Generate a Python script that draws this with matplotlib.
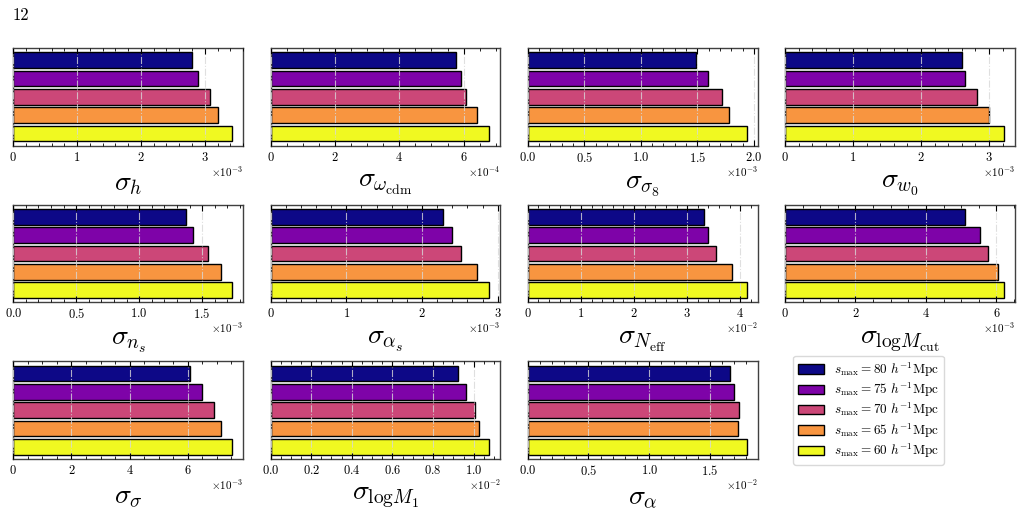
import numpy as np
import matplotlib
matplotlib.use("Agg")
import matplotlib.pyplot as plt
from matplotlib.ticker import AutoMinorLocator

plt.rcParams["font.family"] = "serif"
plt.rcParams["font.serif"] = ["cmr10", "DejaVu Serif"]
plt.rcParams["mathtext.fontset"] = "cm"
plt.rcParams["axes.formatter.use_mathtext"] = True
plt.rcParams["axes.unicode_minus"] = False

# s_max values (h^-1 Mpc), top bar first
smax = [80, 75, 70, 65, 60]

# 1-sigma forecast errors, one list per parameter (same order as smax)
sig_h = [2.80e-3, 2.90e-3, 3.08e-3, 3.20e-3, 3.43e-3]
sig_wcdm = [5.77e-4, 5.91e-4, 6.07e-4, 6.41e-4, 6.80e-4]
sig_s8 = [1.485e-3, 1.594e-3, 1.718e-3, 1.779e-3, 1.936e-3]
sig_w0 = [2.60e-3, 2.65e-3, 2.82e-3, 3.00e-3, 3.22e-3]
sig_ns = [1.375e-3, 1.425e-3, 1.547e-3, 1.650e-3, 1.739e-3]
sig_as = [2.28e-3, 2.40e-3, 2.51e-3, 2.72e-3, 2.89e-3]
sig_neff = [3.31e-2, 3.39e-2, 3.55e-2, 3.84e-2, 4.12e-2]
sig_logmcut = [5.10e-3, 5.54e-3, 5.77e-3, 6.03e-3, 6.21e-3]
sig_sigma = [6.08e-3, 6.48e-3, 6.92e-3, 7.13e-3, 7.53e-3]
sig_logm1 = [0.920e-2, 0.964e-2, 1.008e-2, 1.028e-2, 1.077e-2]
sig_alpha = [1.665e-2, 1.700e-2, 1.739e-2, 1.730e-2, 1.802e-2]

labels = [r"$\sigma_{h}$", r"$\sigma_{\omega_{\rm cdm}}$", r"$\sigma_{\sigma_8}$", r"$\sigma_{w_0}$",
          r"$\sigma_{n_s}$", r"$\sigma_{\alpha_s}$", r"$\sigma_{N_{\rm eff}}$",
          r"$\sigma_{{\rm log}M_{\rm cut}}$",
          r"$\sigma_{\sigma}$", r"$\sigma_{{\rm log}M_1}$", r"$\sigma_{\alpha}$"]
series = [sig_h, sig_wcdm, sig_s8, sig_w0, sig_ns, sig_as, sig_neff, sig_logmcut,
          sig_sigma, sig_logm1, sig_alpha]

colors = plt.cm.plasma(np.linspace(0, 1, len(smax)))
ypos = np.arange(len(smax))

fig, axes = plt.subplots(3, 4, figsize=(10.22, 5.2), dpi=100)
fig.subplots_adjust(left=0.013, right=0.993, top=0.908, bottom=0.117, wspace=0.119, hspace=0.60)

panels = list(zip(axes.flat, labels, series))
for ax, lab, vals in panels:
    for i in range(len(smax)):
        ax.barh(ypos[i], vals[i], height=0.85, color=colors[i], edgecolor="k", linewidth=1.0,
                label=rf"$s_{{\rm max}} = {smax[i]}\ h^{{-1}}{{\rm Mpc}}$")
    ax.invert_yaxis()
    ax.set_xlim(left=0)
    ax.ticklabel_format(axis="x", style="sci", scilimits=(0, 0))
    ax.xaxis.set_minor_locator(AutoMinorLocator())
    ax.tick_params(axis="x", which="both", direction="in", top=True, bottom=True, labelsize=9)
    ax.tick_params(axis="x", which="major", length=4, width=0.8)
    ax.tick_params(axis="x", which="minor", length=2, width=0.6)
    ax.tick_params(axis="y", left=False, right=False, labelleft=False)
    ax.grid(axis="x", which="major", color="#d8d8d8", ls="-.", lw=0.8, alpha=0.8)
    ax.set_axisbelow(False)
    for sp in ax.spines.values():
        sp.set_color("0.25")
        sp.set_linewidth(1.0)
    ax.set_xlabel(lab, fontsize=20, labelpad=5)

# the x10^n offset sits a bit higher than matplotlib puts it: redraw it by hand
fig.canvas.draw()
for ax, lab, vals in panels:
    off = ax.xaxis.get_major_formatter().get_offset()
    ax.xaxis.get_offset_text().set_visible(False)
    ax.annotate(off, xy=(1, 0), xycoords="axes fraction", xytext=(0, -13),
                textcoords="offset points", ha="right", va="top", fontsize=8)

handles, leg_labels = axes.flat[0].get_legend_handles_labels()
axes.flat[-1].axis("off")
axes.flat[-1].legend(handles, leg_labels, loc="center left", fontsize=9.5, frameon=True,
                     edgecolor="#d0d0d0", fancybox=True, handlelength=2.0, labelspacing=0.15,
                     borderpad=0.35, borderaxespad=0.6)

fig.text(0.012, 0.985, "12", fontsize=12, va="top", ha="left")

fig.savefig("out.png", dpi=100)
